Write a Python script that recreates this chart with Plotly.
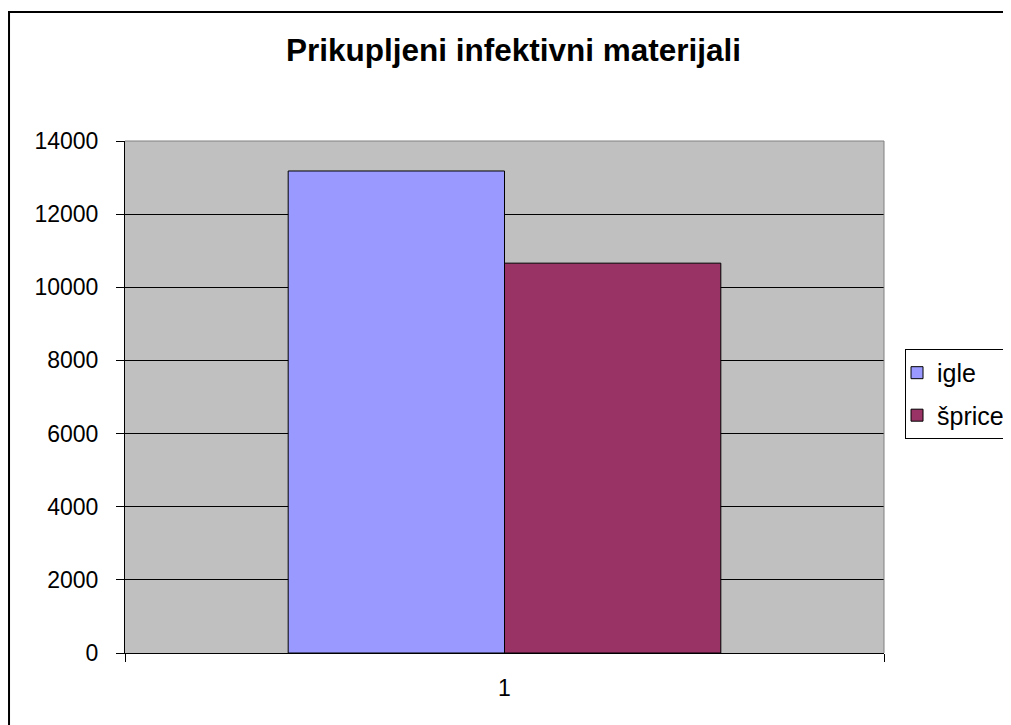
import plotly.graph_objects as go

categories = ["1"]
igle = [13180]
sprice = [10660]
y_ticks = [0, 2000, 4000, 6000, 8000, 10000, 12000, 14000]

fig = go.Figure()
fig.add_trace(go.Bar(x=categories, y=igle, name="igle", legendgroup="a",
                     marker=dict(color="#9999FF", line=dict(color="black", width=1))))
fig.add_trace(go.Bar(x=categories, y=sprice, name="šprice", legendgroup="b",
                     marker=dict(color="#993366", line=dict(color="black", width=1))))

# page body has an 8px margin, so the figure is shifted; compensate in margins
fig.update_layout(
    width=1011, height=725,
    margin=dict(l=117, r=135, t=133, b=80, autoexpand=False),
    paper_bgcolor="white",
    plot_bgcolor="#C0C0C0",
    font=dict(family="Liberation Sans, Arial, sans-serif", size=23, color="black"),
    title=dict(text="<b>Prikupljeni infektivni materijali</b>", x=0.5, xanchor="center",
               y=0.942, yanchor="middle", font=dict(size=31.5)),
    barmode="group", bargap=0.43, bargroupgap=0,
    showlegend=True,
    legend=dict(x=1.0277, y=0.506, xanchor="left", yanchor="middle",
                bordercolor="black", borderwidth=1, bgcolor="white",
                font=dict(size=25), tracegroupgap=7, itemwidth=30, indentation=-9),
)
fig.update_yaxes(range=[0, 14000], tickvals=y_ticks, tickformat="d",
                 showgrid=True, gridcolor="black", gridwidth=1,
                 ticks="outside", ticklen=8, tickcolor="black", ticklabelstandoff=13,
                 showline=True, linecolor="black", linewidth=1, zeroline=False)
fig.update_xaxes(ticks="outside", tickson="boundaries", ticklen=8, tickcolor="black",
                 ticklabelstandoff=14,
                 showline=True, linecolor="black", linewidth=1)

# gray top/right plot border
fig.add_shape(type="line", xref="paper", yref="paper", x0=0, x1=1, y0=1, y1=1,
              line=dict(color="#808080", width=1))
fig.add_shape(type="line", xref="paper", yref="paper", x0=1, x1=1, y0=0, y1=1,
              line=dict(color="#808080", width=1))
# outer chart border
fig.add_shape(type="rect", xref="paper", yref="paper", x0=-0.1528, x1=1.5, y0=-0.3, y1=1.252,
              line=dict(color="black", width=2), layer="below")

fig.write_html("out.html")
